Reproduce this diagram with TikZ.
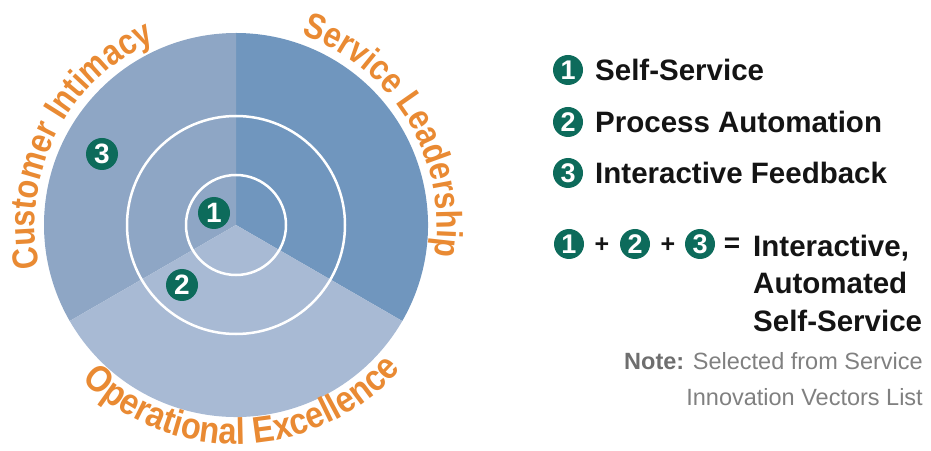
\documentclass[tikz,border=0pt]{standalone}
\usepackage{fontspec}
\setmainfont{Liberation Sans}
\newfontfamily\arcfamtop{Liberation Sans}[FakeStretch=0.85]
\newfontfamily\arcfambot{Liberation Sans}[FakeStretch=0.88]
\usetikzlibrary{decorations.text}
\definecolor{secR}{HTML}{7096BE}
\definecolor{secL}{HTML}{8EA6C5}
\definecolor{secB}{HTML}{A8BAD4}
\definecolor{badgeteal}{HTML}{0D6B5B}
\definecolor{arcorange}{HTML}{E98A33}
\definecolor{textblack}{HTML}{141414}
\definecolor{notegray}{HTML}{808080}
\definecolor{notedark}{HTML}{6E6E6E}
\newcommand{\arcfonttop}{\arcfamtop\fontsize{36}{36}\selectfont\bfseries}
\newcommand{\arcfontbot}{\arcfambot\fontsize{37}{37}\selectfont\bfseries}
\begin{document}
\begin{tikzpicture}[x=1pt,y=1pt,
  badge/.style={circle, fill=badgeteal, text=white, minimum size=32pt, inner sep=0pt,
    font=\fontsize{28}{28}\selectfont\bfseries},
  lbadge/.style={badge, minimum size=30pt, font=\fontsize{27}{27}\selectfont\bfseries},
  legend/.style={anchor=west, inner sep=0pt, text=textblack,
    font=\fontsize{29.5}{35}\selectfont\bfseries},
  result/.style={anchor=base west, inner sep=0pt, text=textblack,
    font=\fontsize{29.5}{35}\selectfont\bfseries},
  op/.style={inner sep=0pt, text=textblack, font=\fontsize{25}{25}\selectfont\bfseries},
  note/.style={anchor=base east, inner sep=0pt, text=notegray,
    font=\fontsize{23.5}{26}\selectfont},
  ring/.style={draw=white, line width=2.5pt},
  arctext/.style 2 args={decorate, decoration={text along path, text align=center,
    text color=arcorange, text={|#1|#2}}}]
\useasboundingbox (0,0) rectangle (931,450);
\coordinate (c) at (236,225);
% sectors
\fill[secR] (c) -- ++(-30:192) arc[start angle=-30, end angle=90, radius=192] -- cycle;
\fill[secL] (c) -- ++(90:192) arc[start angle=90, end angle=210, radius=192] -- cycle;
\fill[secB] (c) -- ++(210:192) arc[start angle=210, end angle=330, radius=192] -- cycle;
% rings
\draw[ring] (c) circle[radius=50];
\draw[ring] (c) circle[radius=109];
% curved labels
\path[arctext={\arcfonttop}{Customer Intimacy}] (c) ++(213:201) arc[start angle=213, end angle=93, radius=201];
\path[arctext={\arcfonttop}{Service Leadership}] (c) ++(91:201) arc[start angle=91, end angle=-29, radius=201];
\path[arctext={\arcfontbot}{Operational Excellence}] (c) ++(207:219) arc[start angle=207, end angle=337, radius=219];
% badges in circle
\node[badge] (b1) at (214,237) {1};
\node[badge] (b2) at (182,165) {2};
\node[badge] (b3) at (102,296) {3};
% legend
\node[lbadge] (l1) at (568,380) {1};
\node[legend] (t1) at (595,380) {Self-Service};
\node[lbadge] (l2) at (568,328) {2};
\node[legend] (t2) at (595,328) {Process Automation};
\node[lbadge] (l3) at (568,277) {3};
\node[legend] (t3) at (595,277) {Interactive Feedback};
% formula
\node[lbadge] (f1) at (569,206) {1};
\node[op] (p1) at (602,205) {+};
\node[lbadge] (f2) at (635,206) {2};
\node[op] (p2) at (668,205) {+};
\node[lbadge] (f3) at (700,206) {3};
\node[op, font=\fontsize{28}{28}\selectfont\bfseries] (eq) at (732,205) {=};
\node[result] (r1) at (753,193) {Interactive,};
\node[result] (r2) at (753,156) {Automated};
\node[result] (r3) at (753,119) {Self-Service};
% note
\node[note] (n1) at (923,81) {{\bfseries\color{notedark}Note:} Selected from Service};
\node[note] (n2) at (923,45) {Innovation Vectors List};
\end{tikzpicture}
\end{document}
